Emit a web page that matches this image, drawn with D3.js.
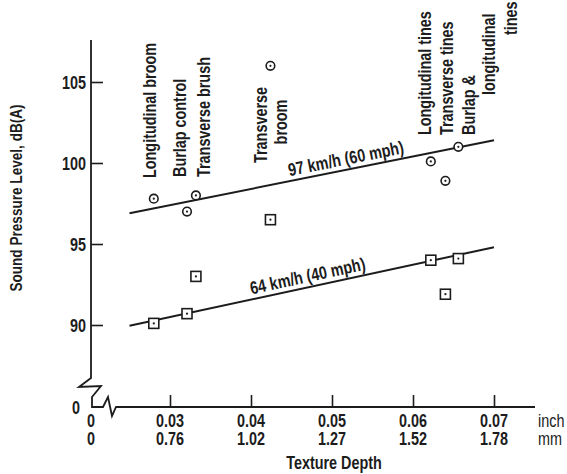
<!DOCTYPE html>
<html>
<head>
<meta charset="utf-8">
<script src="https://cdn.jsdelivr.net/npm/d3@7"></script>
<style>
  body { margin: 0; background: #fff; }
  text { font-family: "Liberation Sans", Arial, sans-serif; font-weight: bold; fill: #1c1c1c; }
</style>
</head>
<body>
<svg id="chart" width="567" height="474"></svg>
<script>
// Pavement surfaces and their measured texture depth (inch)
const surfaces = ["Longitudinal broom", "Burlap control", "Transverse brush", "Transverse broom",
                  "Longitudinal tines", "Transverse tines", "Burlap & longitudinal tines"];
const depthInch = [0.0280, 0.0321, 0.0332, 0.0424, 0.0622, 0.0640, 0.0656];
// Sound pressure level, dB(A), at the two test speeds
const spl97 = [97.8, 97.0, 98.0, 106.0, 100.1, 98.9, 101.0];
const spl64 = [90.1, 90.7, 93.0, 96.5, 94.0, 91.9, 94.1];
// Fitted trend lines: [depth, dB] end points
const fit97 = [[0.025, 96.9], [0.070, 101.4]];
const fit64 = [[0.025, 89.95], [0.070, 94.8]];
const fitLabels = ["97 km/h (60 mph)", "64 km/h (40 mph)"];
// Axis ticks
const inchTicks = [0.03, 0.04, 0.05, 0.06, 0.07];
const mmTicks = ["0.76", "1.02", "1.27", "1.52", "1.78"];
const dbTicks = [90, 95, 100, 105];

const svg = d3.select("#chart");
const x = d3.scaleLinear().domain([0.03, 0.07]).range([170, 494]);
const y = d3.scaleLinear().domain([90, 105]).range([325, 82]);
const ink = "#1c1c1c";
const fs = 18;
const squeeze = 0.8; // condensed lettering

// Text helper: condensed type at a point, optionally rotated
function label(px, py, txt, opts = {}) {
  const rot = opts.rot || 0, anchor = opts.anchor || "middle", size = opts.size || fs;
  const t = svg.append("text")
    .attr("transform", `translate(${px},${py}) rotate(${rot}) scale(${opts.sx || squeeze},1)`)
    .attr("text-anchor", anchor).attr("font-size", size).text(txt);
  if (opts.weight) t.style("font-weight", opts.weight);
  return t;
}

// Y axis line with break at the bottom, joined to the x axis
const axX = 91, axY = 407;
svg.append("path")
  .attr("d", `M${axX},40 L${axX},378 L79,387 L101,386 L92,397 L92,${axY} L103,${axY} L108,397 L112,416 L116,${axY} L535,${axY}`)
  .attr("fill", "none").attr("stroke", ink).attr("stroke-width", 1.8).attr("stroke-linejoin", "miter");

// Y ticks (pointing inward)
const yAxis = svg.append("g").attr("transform", `translate(${axX},0)`)
  .call(d3.axisLeft(y).tickValues(dbTicks).tickFormat("").tickSizeInner(-12).tickSizeOuter(0));
yAxis.select(".domain").remove();
yAxis.selectAll(".tick line").attr("stroke", ink).attr("stroke-width", 1.6);
dbTicks.forEach(v => label(86, y(v) + 6.5, String(v), { anchor: "end" }));

// X ticks (pointing inward)
const xAxis = svg.append("g").attr("transform", `translate(0,${axY})`)
  .call(d3.axisBottom(x).tickValues(inchTicks).tickFormat("").tickSizeInner(-12).tickSizeOuter(0));
xAxis.select(".domain").remove();
xAxis.selectAll(".tick line").attr("stroke", ink).attr("stroke-width", 1.6);
inchTicks.forEach((v, i) => {
  label(x(v), 427, d3.format(".2f")(v));
  label(x(v), 445, mmTicks[i]);
});

// Origin zeros
label(76, 414, "0");
label(axX, 427, "0");
label(axX, 445, "0");

// Units
label(538, 427, "inch", { anchor: "start", weight: "normal" });
label(538, 445, "mm", { anchor: "start", weight: "normal" });

// Axis titles
label(334, 469, "Texture Depth");
label(22, 198, "Sound Pressure Level, dB(A)", { rot: -90, size: 17, sx: 0.8 });

// Trend lines and their labels
const line = d3.line().x(d => x(d[0])).y(d => y(d[1]));
[fit97, fit64].forEach((f, k) => {
  svg.append("path").attr("d", line(f)).attr("fill", "none").attr("stroke", ink).attr("stroke-width", 2);
  const px0 = x(f[0][0]), py0 = y(f[0][1]), px1 = x(f[1][0]), py1 = y(f[1][1]);
  const ang = Math.atan2(py1 - py0, px1 - px0);
  const cx = k === 0 ? 348 : 310;
  const t = (cx - px0) / (px1 - px0);
  const cy = py0 + t * (py1 - py0);
  const off = 5;
  label(cx + off * Math.sin(ang), cy - off * Math.cos(ang), fitLabels[k], { rot: ang * 180 / Math.PI });
});

// Data markers: circles for 97 km/h, squares for 64 km/h
const pts = surfaces.map((s, i) => ({ s, d: depthInch[i], a: spl97[i], b: spl64[i] }));
const mk = svg.append("g").attr("stroke", ink).attr("stroke-width", 1.6);
mk.selectAll("circle.hi").data(pts).join("circle").attr("class", "hi")
  .attr("cx", p => x(p.d)).attr("cy", p => y(p.a)).attr("r", 4.3).attr("fill", "#fff");
mk.selectAll("rect.lo").data(pts).join("rect").attr("class", "lo")
  .attr("x", p => x(p.d) - 5).attr("y", p => y(p.b) - 5).attr("width", 10).attr("height", 10).attr("fill", "#fff");
const dots = svg.append("g").attr("fill", ink);
pts.forEach(p => {
  dots.append("circle").attr("cx", x(p.d)).attr("cy", y(p.a)).attr("r", 1.1);
  dots.append("circle").attr("cx", x(p.d)).attr("cy", y(p.b)).attr("r", 1.1);
});

// Surface name labels, written vertically above the points
const labelLayout = [
  [["Longitudinal broom", 156, 178, "start"]],
  [["Burlap control", 186, 177, "start"]],
  [["Transverse brush", 210, 177, "start"]],
  [["Transverse", 267, 125, "middle"], ["broom", 287, 122, "middle"]],
  [["Longitudinal tines", 431, 135, "start"]],
  [["Transverse tines", 453, 135, "start"]],
  [["Burlap &", 475, 135, "start"], ["longitudinal", 495, 95, "start"], ["tines", 517, 35, "start"]]
];
labelLayout.forEach(lines => {
  lines.forEach(([txt, lx, ly, anc]) => label(lx, ly, txt, { rot: -90, anchor: anc }));
});
</script>
</body>
</html>
